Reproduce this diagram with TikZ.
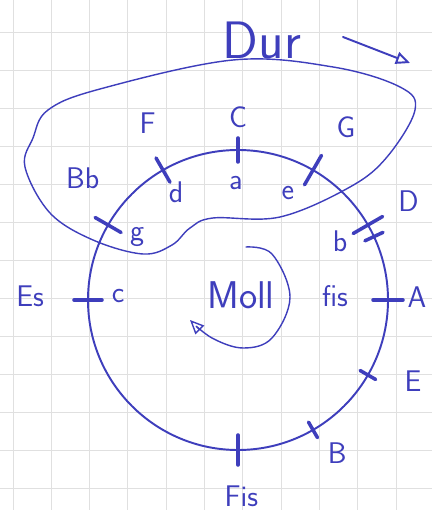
\documentclass[tikz,border=0pt]{standalone}
\usepackage{fontspec}
\usepackage{xcolor}
\usepackage{tikz}
\usetikzlibrary{arrows.meta}
\definecolor{pen}{RGB}{62,62,188}

\begin{document}
\begin{tikzpicture}[x=0.02cm, y=0.02cm, line cap=round, line join=round,
    gridline/.style={black!12, line width=0.5pt},
    tick/.style={pen, line width=2pt},
    dur/.style={pen, font=\sffamily\fontsize{17}{19}\selectfont},
    moll/.style={pen, font=\sffamily\fontsize{17}{19}\selectfont},
    sketch/.style={pen, line width=0.8pt},
    >={Triangle[open, length=8pt, width=7pt]}]
  \useasboundingbox (0,0) rectangle (432,510);
  \fill[white] (0,0) rectangle (432,510);
  % squared paper
  \foreach \x in {0,...,11}{\draw[gridline] (13+38.3*\x,0)--(13+38.3*\x,510);}
  \foreach \y in {0,...,13}{\draw[gridline] (0,478-38*\y)--(432,478-38*\y);}
  % region of the major keys
  \draw[sketch] plot[smooth cycle, tension=0.6] coordinates {
    (415,400) (387,353) (350,323) (280,293) (213,292) (190,282) (172,265)
    (143,256) (93,270) (50,297) (25,343) (33,372) (48,400) (100,421)
    (233,450) (333,443) (400,423)};
  \begin{scope}[shift={(238,210)}]
    \draw[pen, line width=1.1pt] (0,0) circle (150);
    \foreach \a/\l in {90/12, 60/17, 30/17, 25/10, 0/15, -30/9, -60/9, -90/15, 180/14, 150/15, 120/14}
      \draw[tick] (\a:{150-\l}) -- (\a:{150+\l});
    \foreach \a/\r/\t [count=\i] in {90/183/C, 58/204/G, 30/197/D, 1/179/A, -25/193/E,
        -57/182/B, -89/196/Fis, 179/208/Es, 142/197/Bb, 117/199/F}
      \node[dur] (maj\i) at (\a:\r) {\t};
    \foreach \a/\r/\t [count=\i] in {91/117/a, 65/118/e, 30/118/b, 2/97/fis, 178/120/c,
        148/119/g, 120/124/d}
      \node[moll] (min\i) at (\a:\r) {\t};
  \end{scope}
  % Dur, with its arrow
  \node[pen, font=\sffamily\fontsize{30}{32}\selectfont] (durtext) at (262,470) {Dur};
  \coordinate (durfrom) at (343,473);
  \coordinate (durto) at (410,447);
  \draw[sketch, line width=1.1pt, ->] (durfrom) -- (durto);
  % Moll, with its spiral
  \node[pen, font=\sffamily\fontsize{22}{24}\selectfont] (molltext) at (241,215) {Moll};
  \draw[sketch, ->] plot[smooth, tension=0.6] coordinates {
    (246,263) (272,256) (290,213) (272,172) (243,162) (212,172) (190,190)};
\end{tikzpicture}
\end{document}
